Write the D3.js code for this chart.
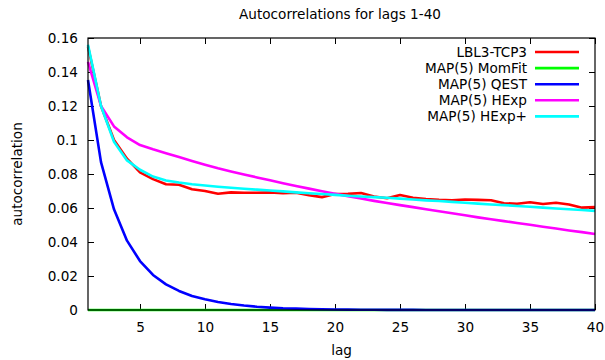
<!DOCTYPE html>
<html lang="en">
<head>
<meta charset="UTF-8">
<title>Autocorrelations</title>
<script src="https://cdn.jsdelivr.net/npm/d3@7/dist/d3.min.js"></script>
<style>
  body { margin: 0; background: #fff; }
  text { font-family: "DejaVu Sans", sans-serif; fill: #000; }
</style>
</head>
<body>
<div id="main_container"></div>
<script>

    var svgWidth = 605;
    var svgHeight = 360;
    var fontSize = "13.6px";

    // lags 1..40
    var lags = d3.range(1, 41);

    var lbl3Tcp3 = [0.155, 0.120, 0.100, 0.089, 0.081, 0.077, 0.074, 0.0737, 0.071, 0.070,
                    0.0684, 0.0692, 0.069, 0.069, 0.0692, 0.0687, 0.0690, 0.0675, 0.0664, 0.0682,
                    0.0683, 0.0688, 0.0668, 0.0657, 0.0676, 0.0660, 0.0652, 0.0648, 0.0646, 0.0650,
                    0.0648, 0.0646, 0.0628, 0.0625, 0.0634, 0.0624, 0.0631, 0.0621, 0.0602, 0.0605];

    var momFit = [0, 0, 0, 0, 0, 0, 0, 0, 0, 0,
                  0, 0, 0, 0, 0, 0, 0, 0, 0, 0,
                  0, 0, 0, 0, 0, 0, 0, 0, 0, 0,
                  0, 0, 0, 0, 0, 0, 0, 0, 0, 0];

    var qest = [0.1353, 0.087, 0.0592, 0.0408, 0.0288, 0.0206, 0.0151, 0.0112, 0.0082, 0.0063,
                0.0047, 0.0035, 0.0026, 0.0019, 0.0014, 0.0010, 0.0008, 0.0006, 0.0004, 0.0003,
                0.0002, 0.00016, 0.00012, 0.0001, 0.00007, 0.00005, 0.00004, 0.00003, 0.00002, 0.00002,
                0.00001, 0.00001, 0.00001, 0.00001, 0, 0, 0, 0, 0, 0];

    var hExp = [0.146, 0.120, 0.108, 0.1016, 0.097, 0.0945, 0.0922, 0.0900, 0.0877, 0.0855,
                0.0834, 0.0815, 0.0797, 0.0780, 0.0763, 0.0746, 0.0730, 0.0714, 0.0699, 0.0684,
                0.0670, 0.0656, 0.0642, 0.0629, 0.0617, 0.0605, 0.0593, 0.0581, 0.0569, 0.0557,
                0.0545, 0.0534, 0.0523, 0.0512, 0.0501, 0.0490, 0.0479, 0.0468, 0.0458, 0.0447];

    var hExpPlus = [0.156, 0.120, 0.099, 0.088, 0.0825, 0.0785, 0.0762, 0.0750, 0.0740, 0.0732,
                    0.0725, 0.0719, 0.0713, 0.0708, 0.0703, 0.0698, 0.0692, 0.0687, 0.0682, 0.0677,
                    0.0672, 0.0668, 0.0664, 0.0660, 0.0655, 0.0650, 0.0645, 0.0641, 0.0636, 0.0631,
                    0.0626, 0.0621, 0.0617, 0.0612, 0.0607, 0.0602, 0.0597, 0.0593, 0.0588, 0.0583];

    var seriesNames = ["LBL3-TCP3", "MAP(5) MomFit", "MAP(5) QEST", "MAP(5) HExp", "MAP(5) HExp+"];
    var seriesColors = ["#ff0000", "#00ff00", "#0000ff", "#ff00ff", "#00ffff"];
    var seriesValues = [lbl3Tcp3, momFit, qest, hExp, hExpPlus];

    var xTicks = [5, 10, 15, 20, 25, 30, 35, 40];
    var yTicks = [0, 0.02, 0.04, 0.06, 0.08, 0.1, 0.12, 0.14, 0.16];

    var margin = {left: 88, right: 10, top: 38, bottom: 50};
    var plotW = svgWidth - margin.left - margin.right;
    var plotH = svgHeight - margin.top - margin.bottom;

    var svg = d3.select("#main_container").append("svg")
            .attr("width", svgWidth)
            .attr("height", svgHeight);

    var g = svg.append("g")
            .attr("transform", "translate(" + margin.left + "," + margin.top + ")");

    var x = d3.scaleLinear().domain([1, 40]).range([0, plotW]);
    var y = d3.scaleLinear().domain([0, 0.16]).range([plotH, 0]);

    // axes with inward ticks (mirrored on top and right)
    var fmtY = function(d){ return d === 0 ? "0" : String(+d.toFixed(2)); };

    var xBottom = g.append("g")
        .attr("transform", "translate(0," + plotH + ")")
        .call(d3.axisBottom(x).tickValues(xTicks).tickSizeInner(-6).tickSizeOuter(0).tickPadding(12));
    var xTop = g.append("g")
        .call(d3.axisTop(x).tickValues(xTicks).tickSizeInner(-6).tickSizeOuter(0).tickFormat(""));
    var yLeft = g.append("g")
        .call(d3.axisLeft(y).tickValues(yTicks).tickSizeInner(-6).tickSizeOuter(0).tickPadding(10).tickFormat(fmtY));
    var yRight = g.append("g")
        .attr("transform", "translate(" + plotW + ",0)")
        .call(d3.axisRight(y).tickValues(yTicks).tickSizeInner(-6).tickSizeOuter(0).tickFormat(""));

    [xBottom, xTop, yLeft, yRight].forEach(function(a){
        a.select(".domain").remove();
        a.selectAll(".tick line").attr("stroke", "#000").attr("stroke-width", 1);
        a.selectAll(".tick text")
            .style("font-family", "'DejaVu Sans', sans-serif")
            .style("font-size", fontSize)
            .attr("fill", "#000");
    });

    // series lines
    var line = d3.line()
        .x(function(d, i){ return x(lags[i]); })
        .y(function(d){ return y(d); });

    seriesValues.forEach(function(vals, k){
        g.append("path")
            .datum(vals)
            .attr("fill", "none")
            .attr("stroke", seriesColors[k])
            .attr("stroke-width", 2.6)
            .attr("stroke-linejoin", "round")
            .attr("d", line);
    });

    // border
    g.append("rect")
        .attr("x", 0).attr("y", 0)
        .attr("width", plotW).attr("height", plotH)
        .attr("fill", "none")
        .attr("stroke", "#000")
        .attr("stroke-width", 1.2);

    // legend
    var legend = g.append("g")
        .attr("transform", "translate(" + (plotW - 68) + ",14)");
    seriesNames.forEach(function(name, k){
        var row = legend.append("g").attr("transform", "translate(0," + (k * 16.1) + ")");
        row.append("text")
            .attr("x", 0).attr("y", 5)
            .attr("text-anchor", "end")
            .style("font-size", fontSize)
            .text(name);
        row.append("line")
            .attr("x1", 8).attr("x2", 52)
            .attr("y1", 0).attr("y2", 0)
            .attr("stroke", seriesColors[k])
            .attr("stroke-width", 2.6);
    });

    // titles
    svg.append("text")
        .attr("x", 340).attr("y", 19)
        .attr("text-anchor", "middle")
        .style("font-size", fontSize)
        .text("Autocorrelations for lags 1-40");

    svg.append("text")
        .attr("x", margin.left + plotW / 2).attr("y", 355)
        .attr("text-anchor", "middle")
        .style("font-size", fontSize)
        .text("lag");

    svg.append("text")
        .attr("transform", "translate(22," + (margin.top + plotH / 2) + ") rotate(-90)")
        .attr("text-anchor", "middle")
        .style("font-size", fontSize)
        .text("autocorrelation");
</script>
</body>
</html>
